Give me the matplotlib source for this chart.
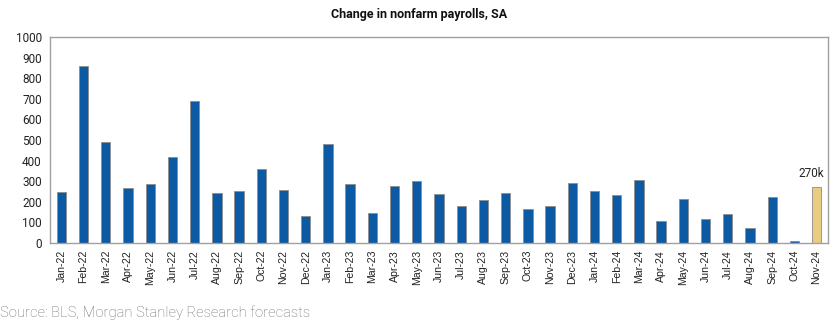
import matplotlib.pyplot as plt

# ======================
# Data (thousands, SA)
# ======================
months = ['Jan-22', 'Feb-22', 'Mar-22', 'Apr-22', 'May-22', 'Jun-22', 'Jul-22',
          'Aug-22', 'Sep-22', 'Oct-22', 'Nov-22', 'Dec-22',
          'Jan-23', 'Feb-23', 'Mar-23', 'Apr-23', 'May-23', 'Jun-23', 'Jul-23',
          'Aug-23', 'Sep-23', 'Oct-23', 'Nov-23', 'Dec-23',
          'Jan-24', 'Feb-24', 'Mar-24', 'Apr-24', 'May-24', 'Jun-24', 'Jul-24',
          'Aug-24', 'Sep-24', 'Oct-24', 'Nov-24']
payrolls = [248, 861, 492, 269, 284, 418, 689, 242, 253, 358, 255, 132,
            481, 285, 144, 276, 302, 239, 182, 210, 244, 163, 181, 289,
            253, 234, 308, 106, 215, 116, 142, 74, 221, 10, 270]
forecast_label = '270k'

BLUE = '#0B5AA3'
TAN = '#EBCB82'

fig = plt.figure(figsize=(8.38, 3.26), dpi=100)
ax = fig.add_axes([0.0597, 0.2546, 0.9283, 0.6319])

x = list(range(len(months)))
colors = [BLUE] * (len(months) - 1) + [TAN]
ax.bar(x, payrolls, width=0.42, color=colors, edgecolor='#8c8c8c', linewidth=0.6)

ax.annotate(forecast_label, (x[-1], payrolls[-1]), xytext=(-4, 5),
            textcoords='offset points', ha='center', va='bottom',
            fontsize=8.5, family='Roboto', color='#222222')

ax.set_xlim(-0.51, len(months) - 0.49)
ax.set_ylim(0, 1000)
ax.set_yticks(range(0, 1001, 100))
ax.set_yticklabels([str(v) for v in range(0, 1001, 100)], family='Roboto', fontsize=8.5)
ax.set_xticks(x)
ax.set_xticklabels(months, rotation=90, family='Liberation Sans', fontsize=7.6)
ax.tick_params(axis='both', length=0, colors='#222222')
ax.tick_params(axis='y', pad=6)
ax.tick_params(axis='x', pad=5)
for s in ax.spines.values():
    s.set_color('#a0a0a0')
    s.set_linewidth(1.0)

fig.text(0.5, 0.955, 'Change in nonfarm payrolls, SA', ha='center', va='center',
         family='Roboto', fontweight='bold', fontsize=9, color='#111111')
fig.text(0.0, 0.04, 'Source: BLS, Morgan Stanley Research forecasts', ha='left', va='center',
         family='Roboto', fontweight='light', fontsize=10.6, color='#707070')

fig.savefig('out.png', dpi=100)
